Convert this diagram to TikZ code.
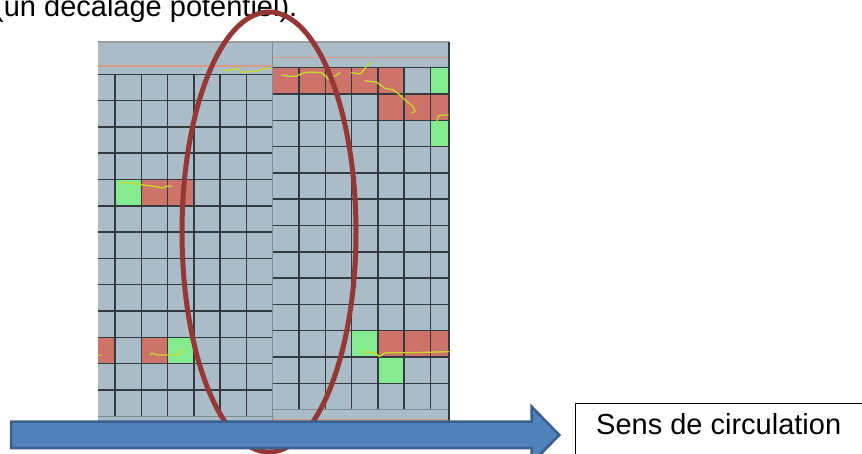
\documentclass[tikz,border=0pt]{standalone}
\usepackage{fontspec}
\setmainfont{Liberation Sans}
\definecolor{panelbg}{HTML}{A9BCC8}
\definecolor{gridline}{HTML}{333B40}
\definecolor{gridlight}{HTML}{7E8C94}
\definecolor{cellred}{HTML}{CD7369}
\definecolor{cellgreen}{HTML}{84EC8E}
\definecolor{orangeline}{HTML}{D99A84}
\definecolor{topgray}{HTML}{9C9C9C}
\definecolor{squig}{HTML}{C9D92A}
\definecolor{ellred}{HTML}{953735}
\definecolor{arrowfill}{HTML}{4F81BD}
\definecolor{arrowedge}{HTML}{3B5F8E}
\begin{document}
\begin{tikzpicture}[x=1pt,y=-1pt,
  bigtext/.style={font=\fontsize{29}{35}\selectfont, inner sep=0pt},
  gline/.style={gridline, line width=1.5pt},
  lightline/.style={gridlight, line width=1.2pt},
  oline/.style={orangeline, line width=1.5pt},
  squigline/.style={squig, line width=1.3pt, line join=round, line cap=round},
  redcell/.style={fill=cellred},
  greencell/.style={fill=cellgreen}]
\useasboundingbox (0,0) rectangle (862,454);
\clip (0,0) rectangle (862,454);

% top text
\node (note) [bigtext, anchor=base west] at (-6,16.5) {(un décalage potentiel).};

% panels
\fill[panelbg] (98,41) rectangle (449,421);
\draw[topgray, line width=2pt] (98,42) -- (449,42);

% coloured cells, left panel
\fill[greencell] (115,179.5) rectangle (141.25,205.8);
\fill[redcell] (141.25,179.5) rectangle (193.75,205.8);
\fill[redcell] (98,337.3) rectangle (115,363.6);
\fill[redcell] (141.25,337.3) rectangle (167.5,363.6);
\fill[greencell] (167.5,337.3) rectangle (193.75,363.6);

% coloured cells, right panel
\fill[redcell] (272.7,67.7) rectangle (404,94);
\fill[greencell] (430.25,67.7) rectangle (449,94);
\fill[redcell] (377.75,94) rectangle (449,120.3);
\fill[greencell] (430.25,120.3) rectangle (449,146.6);
\fill[greencell] (351.5,330.7) rectangle (377.75,357);
\fill[redcell] (377.75,330.7) rectangle (449,357);
\fill[greencell] (377.75,357) rectangle (404,383.3);

% left panel lines
\draw[oline] (98,66) -- (272.7,66);
\foreach \x in {115,141.25,167.5,193.75,220,246.25}
  \draw[gline] (\x,74.3) -- (\x,416.2);
\foreach \k in {0,...,12}
  \draw[gline] (98,{74.3+26.3*\k}) -- (272.7,{74.3+26.3*\k});
\draw[lightline] (98,416.2) -- (272.7,416.2);

% right panel lines
\draw[oline] (272.7,57.3) -- (449,57.3);
\draw[oline] (272.7,419.5) -- (449,419.5);
\foreach \x in {299,325.25,351.5,377.75,404,430.25}
  \draw[gline] (\x,67.7) -- (\x,409.6);
\foreach \k in {0,...,12}
  \draw[gline] (272.7,{67.7+26.3*\k}) -- (449,{67.7+26.3*\k});
\draw[lightline] (272.7,409.6) -- (449,409.6);

% panel borders
\draw[gridlight, line width=1.5pt] (272.7,42) -- (272.7,421);
\draw[gridline, line width=1.3pt] (449,42) -- (449,421);

% yellow traces
\draw[squigline] (223,71) -- (230,70) -- (238,68.5) -- (242,72.5) -- (250,71.5) -- (258,71) -- (262,69) -- (270,68.5);
\draw[squigline] (120,183.5) -- (126,182) -- (140,184.5) -- (155,186.5) -- (163,188) -- (168,186) -- (172,186.5);
\draw[squigline] (281.7,75) -- (290,76.5) -- (296.7,76) -- (303,73) -- (310,72) -- (321.7,72.7) -- (326.7,77.3) -- (328,79.3) -- (336.7,75) -- (340,72.7);
\draw[squigline] (351.7,72.7) -- (360,74) -- (363.3,70.7) -- (366.7,66) -- (372.3,61.7);
\draw[squigline] (365,80.7) -- (376.7,82.3) -- (385,88.3) -- (393.3,90) -- (400,95) -- (406.7,101.7) -- (413.3,106.7) -- (415,111.7) -- (411.7,112.7);
\draw[squigline] (436.7,121.7) -- (438.3,116) -- (443,115) -- (448.3,115);
\draw[squigline] (98,355) -- (101,355.5);
\draw[squigline] (150,355) -- (151.7,353.3) -- (156.7,355) -- (178.3,355) -- (183.3,349.3);
\draw[squigline] (363.3,350) -- (366.7,353.3) -- (370,352) -- (375,352.7) -- (379.3,356.5) -- (385,353) -- (388.3,352.7) -- (410,352.7) -- (449,351.7);

% ellipse
\draw[ellred, line width=5pt] (269,232) ellipse [x radius=87, y radius=220];

% arrow
\draw[arrowedge, line width=2.5pt, fill=arrowfill, line join=miter]
  (11,421.7) -- (531.7,421.7) -- (531.7,406.7) -- (559.3,435) -- (531.7,463.3) -- (531.7,448) -- (11,448) -- cycle;

% legend box
\node (box) [draw=black, line width=1pt, anchor=north west, minimum width=320pt, minimum height=90pt, inner sep=0pt] at (575,403.3) {};
\node (sens) [bigtext, anchor=base west] at (596,434) {Sens de circulation};
\end{tikzpicture}
\end{document}
